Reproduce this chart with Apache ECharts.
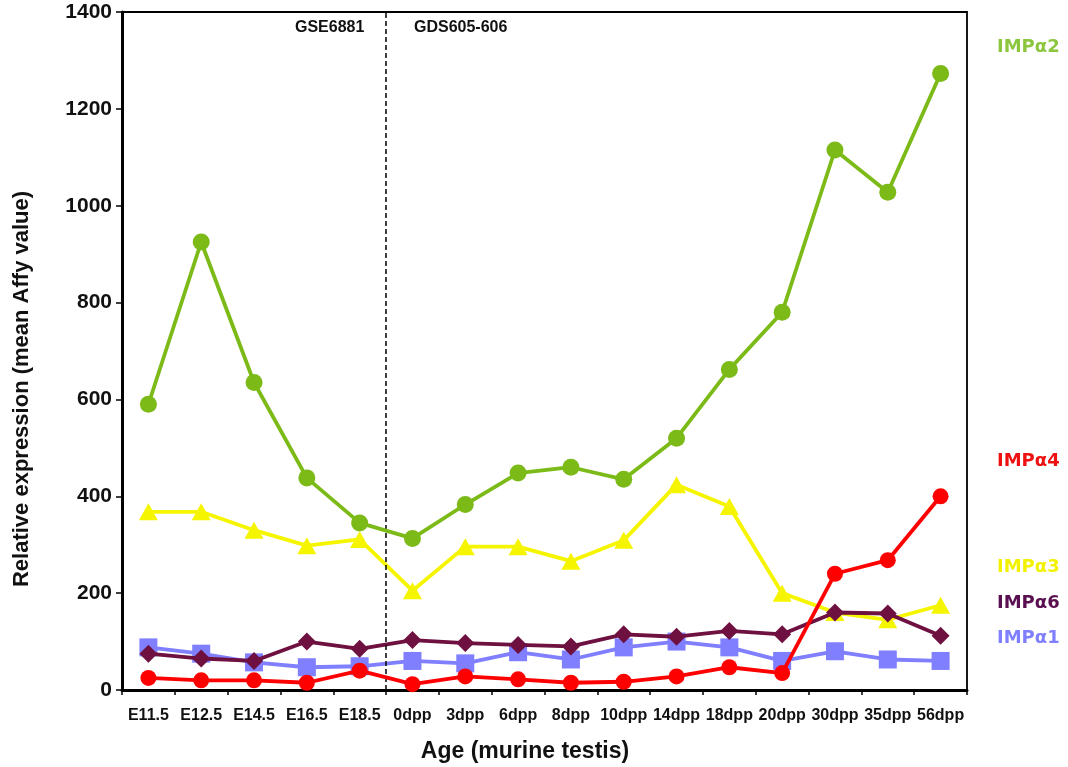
<!DOCTYPE html>
<html><head><meta charset="utf-8">
<script src="https://cdn.jsdelivr.net/npm/echarts@6/dist/echarts.min.js"></script>
<style>html,body{margin:0;padding:0;background:#fff}#c{width:1068px;height:767px}</style>
</head><body><div id="c"></div>
<script>
const categories = ['E11.5','E12.5','E14.5','E16.5','E18.5','0dpp','3dpp','6dpp','8dpp','10dpp','14dpp','18dpp','20dpp','30dpp','35dpp','56dpp'];
const impa2 = [590, 925, 635, 438, 345, 313, 383, 448, 460, 435, 520, 662, 780, 1115, 1028, 1273];
const impa3 = [368, 368, 330, 298, 311, 205, 296, 296, 266, 309, 424, 379, 200, 160, 145, 175];
const impa6 = [75, 65, 60, 100, 85, 103, 97, 93, 90, 115, 110, 122, 115, 160, 158, 112];
const impa1 = [88, 75, 57, 47, 49, 60, 55, 78, 63, 88, 100, 88, 60, 80, 63, 60];
const impa4 = [25, 20, 20, 15, 40, 12, 28, 22, 15, 17, 28, 47, 35, 240, 268, 400];
const yTicks = [0, 200, 400, 600, 800, 1000, 1200, 1400];
const dividerIndex = 5;

const chart = echarts.init(document.getElementById('c'), null, {renderer:'canvas'});
const font = 'Liberation Sans, Arial, sans-serif';
const lblFont = 'DejaVu Sans, Verdana, sans-serif';
function ser(name, data, color, symbol, size, z) {
  return {name, type:'line', data, symbol, symbolSize:size, z,
    lineStyle:{color, width:3.8}, itemStyle:{color}, animation:false};
}
chart.setOption({
  animation:false,
  grid:{left:122, right:101, top:12, bottom:77, show:true, borderColor:'#000', borderWidth:1.8},
  xAxis:[{type:'category', data:categories, boundaryGap:true,
    axisLine:{lineStyle:{color:'#000', width:3}},
    axisTick:{show:true, length:5, lineStyle:{color:'#000', width:1.5}},
    axisLabel:{color:'#111', fontFamily:font, fontWeight:'bold', fontSize:16, margin:18, interval:0}},
   {type:'value', min:0, max:categories.length, show:false, position:'bottom'}],
  yAxis:{type:'value', min:yTicks[0], max:yTicks[yTicks.length-1], interval:200,
    splitLine:{show:false},
    axisLine:{show:true, lineStyle:{color:'#000', width:3}},
    axisTick:{show:true, length:6, lineStyle:{color:'#000', width:1.5}},
    axisLabel:{color:'#111', fontFamily:font, fontWeight:'bold', fontSize:21, margin:10,
      formatter:function(v){return String(v);}}},
  series:[
    ser('IMPα1', impa1, '#7f7fff', 'rect', 18, 2),
    ser('IMPα3', impa3, '#f5f500', 'triangle', [19,17], 3),
    ser('IMPα6', impa6, '#6e1040', 'diamond', 18, 4),
    ser('IMPα4', impa4, '#ff0000', 'circle', 16, 5),
    ser('IMPα2', impa2, '#7cba18', 'circle', 17, 6),
    {type:'line', xAxisIndex:1, data:[], silent:true,
      markLine:{symbol:'none', silent:true, label:{show:false},
        lineStyle:{color:'#111', type:[5,3], width:1.6},
        data:[{xAxis:dividerIndex}]}}
  ],
  graphic:[
    {type:'text', x:22, y:389, rotation:Math.PI/2,
      style:{text:'Relative expression (mean Affy value)', font:'bold 22px '+font, fill:'#111', textAlign:'center', textVerticalAlign:'middle'}},
    {type:'text', x:525, y:752,
      style:{text:'Age (murine testis)', font:'bold 23px '+font, fill:'#111', textAlign:'center', textVerticalAlign:'middle'}},
    {type:'text', x:295, y:28, style:{text:'GSE6881', font:'bold 16px '+font, fill:'#111', textVerticalAlign:'middle'}},
    {type:'text', x:414, y:28, style:{text:'GDS605-606', font:'bold 16px '+font, fill:'#111', textVerticalAlign:'middle'}},
    {type:'text', x:997, y:47, style:{text:'IMPα2', font:'bold 18px '+lblFont, fill:'#8cc63f', textVerticalAlign:'middle'}},
    {type:'text', x:997, y:461, style:{text:'IMPα4', font:'bold 18px '+lblFont, fill:'#ee1111', textVerticalAlign:'middle'}},
    {type:'text', x:997, y:567, style:{text:'IMPα3', font:'bold 18px '+lblFont, fill:'#f2f200', textVerticalAlign:'middle'}},
    {type:'text', x:997, y:603, style:{text:'IMPα6', font:'bold 18px '+lblFont, fill:'#5a0f50', textVerticalAlign:'middle'}},
    {type:'text', x:997, y:638, style:{text:'IMPα1', font:'bold 18px '+lblFont, fill:'#7f7fff', textVerticalAlign:'middle'}}
  ]
});
</script></body></html>
